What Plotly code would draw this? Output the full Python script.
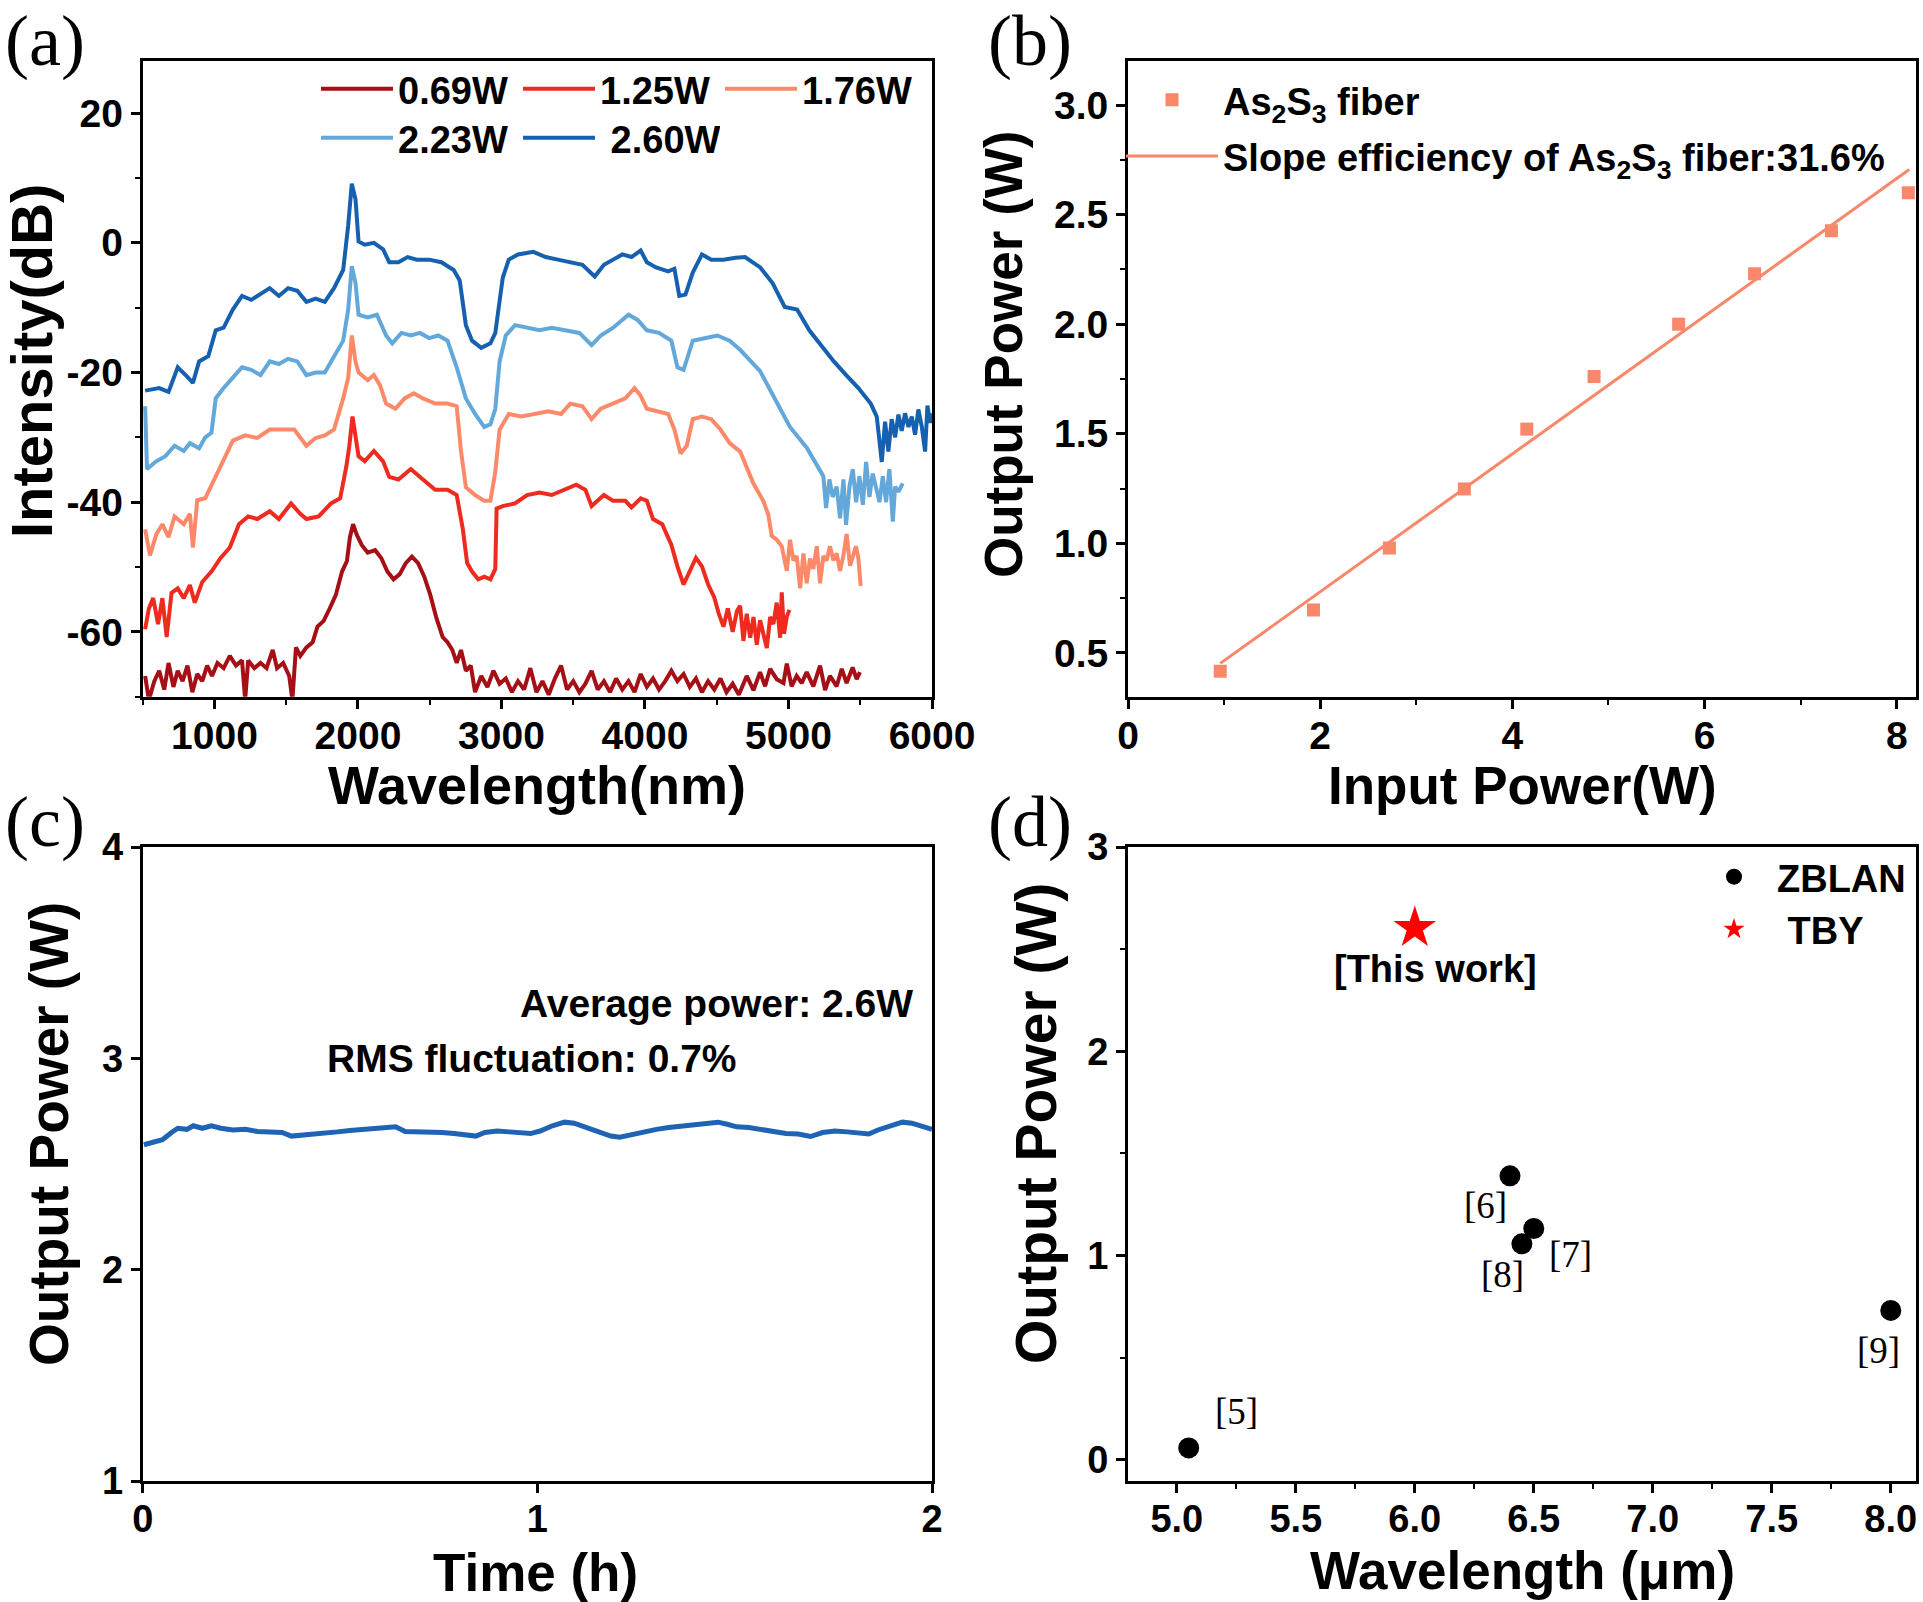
import plotly.graph_objects as go

W, H = 1923, 1602
SANS = "Liberation Sans, Arial, sans-serif"
SERIF = "Liberation Serif, Times New Roman, serif"

# ---------------- (a) spectra ----------------
wl_069 = [517,543,581,615,650,680,714,744,778,812,846,880,915,949,983,1021,1064,1107,1150,1192,1214,1235,1278,1321,1363,1406,1436,1479,1521,1543,1568,1598,1641,1684,1718,1761,1803,1846,1889,1923,1944,1966,1991,2026,2068,2120,2162,2205,2248,2291,2333,2376,2419,2462,2504,2547,2590,2624,2658,2688,2718,2752,2786,2816,2859,2902,2944,2987,3030,3073,3115,3158,3201,3244,3286,3329,3372,3415,3457,3500,3543,3585,3628,3671,3714,3756,3799,3842,3885,3927,3970,4013,4056,4098,4141,4184,4226,4269,4312,4355,4397,4440,4483,4526,4568,4611,4654,4686,4709,4756,4802,4837,4872,4918,4965,4988,5022,5057,5092,5127,5173,5220,5255,5289,5336,5371,5405,5447,5475,5498]
db_069 = [-66.8,-70.5,-67.6,-66,-68.9,-64.8,-68.5,-66,-67.6,-65.2,-69.3,-66.5,-67.6,-65.2,-66.8,-64.8,-65.6,-63.7,-65.2,-64.4,-70.5,-64.4,-65.6,-64.8,-65.6,-62.8,-65.6,-64.8,-66.8,-70.5,-62.4,-63.7,-62.4,-61.6,-59.2,-58.3,-56.4,-54.3,-50.7,-49.1,-45.4,-43.4,-45,-46.6,-47.8,-47.4,-48.6,-50.7,-51.9,-51.1,-49.4,-48.4,-49.4,-51.5,-54.3,-57.9,-60.8,-61.6,-62.8,-64.8,-62.8,-66,-65.2,-69.3,-66.8,-68.5,-66,-68,-67.2,-69.3,-67.6,-68.9,-65.6,-69.3,-67.6,-69.7,-67.2,-65.2,-68.9,-67.6,-69.3,-68,-66,-68.9,-67.6,-69.3,-67.2,-68.9,-67.6,-69.3,-66.5,-68.5,-67.2,-68.9,-67.6,-66,-67.6,-66.5,-68.5,-67.2,-69.3,-67.6,-68.9,-67.2,-69.3,-68,-69.7,-67.9,-66.8,-69,-66.2,-68.4,-65.7,-67.3,-67.9,-64.9,-68.4,-66.8,-67.9,-66.2,-68.4,-65.2,-69,-66.8,-68.4,-65.7,-67.9,-65.5,-67.3,-66.2]

wl_125 = [517,543,573,607,637,667,701,744,786,829,863,915,979,1043,1107,1171,1235,1299,1385,1449,1534,1598,1641,1726,1812,1876,1919,1940,1962,1983,2004,2047,2111,2175,2218,2282,2368,2453,2538,2624,2688,2731,2761,2795,2838,2880,2923,2957,2966,3009,3094,3179,3265,3350,3436,3521,3585,3628,3714,3778,3863,3906,3970,4013,4056,4120,4184,4226,4269,4312,4355,4397,4440,4483,4513,4547,4577,4611,4641,4663,4686,4709,4733,4756,4779,4802,4826,4849,4872,4895,4918,4942,4953,4969,4988,5006]
db_125 = [-59.6,-56.4,-54.8,-58.8,-54.8,-60.8,-54,-53.3,-54.8,-52.8,-55.5,-52.3,-50.7,-48.6,-47,-43.4,-42.2,-42.6,-41.4,-42.6,-40.2,-41.8,-42.6,-42.2,-40.2,-39.4,-34.5,-31.3,-26.8,-29.7,-32.9,-33.7,-32.1,-33.7,-36.1,-36.5,-34.9,-36.5,-38.1,-38.1,-38.9,-44.2,-49.4,-50.7,-51.9,-51.5,-51.9,-50.3,-41,-40.6,-40.2,-38.9,-38.5,-38.9,-38.1,-37.3,-38.1,-40.6,-38.9,-39.8,-39.8,-40.8,-39.4,-39.8,-42.6,-43.4,-46.6,-49.9,-52.7,-50.7,-48.6,-49.9,-52.7,-54.7,-57.1,-59.2,-56.4,-60,-56.8,-56,-61.4,-57.2,-60.9,-57.7,-62,-58.2,-60.3,-62.5,-57.7,-58.8,-55.5,-60.9,-53.9,-60.3,-57.7,-56.6]

wl_176 = [517,551,594,637,680,722,786,829,850,880,936,1000,1064,1128,1214,1299,1385,1470,1556,1641,1705,1769,1833,1897,1932,1957,1983,2004,2068,2111,2154,2196,2261,2325,2389,2453,2538,2624,2688,2718,2752,2816,2880,2923,2957,2987,3051,3137,3222,3329,3415,3479,3564,3628,3692,3778,3863,3927,3970,4013,4098,4162,4205,4248,4291,4333,4397,4462,4526,4590,4663,4755,4824,4859,4883,4918,4953,4988,5011,5034,5057,5081,5104,5127,5150,5173,5197,5220,5243,5266,5289,5313,5336,5359,5382,5405,5429,5452,5470,5487,5503]
db_176 = [-44.2,-48.2,-45,-43.4,-45.4,-42.2,-43.4,-41.8,-47,-39.7,-39.4,-36.5,-33.7,-30.5,-29.7,-30.1,-28.8,-28.8,-28.8,-31.3,-30.1,-29.7,-28.8,-24,-20.8,-14.3,-18.3,-20,-21.2,-20.4,-22,-24.8,-25.6,-24,-23.2,-24,-24.8,-24.8,-25.2,-32.1,-37.7,-38.9,-39.8,-39.8,-35.3,-28.8,-26.4,-26.8,-26.4,-26,-26.4,-24.8,-25.2,-27.2,-25.6,-24.8,-24,-22.4,-23.6,-25.6,-26,-26.4,-28.8,-32.5,-31.3,-27.2,-26.8,-27.2,-28.8,-30.9,-32.2,-37.1,-39.8,-41.9,-45.2,-45.8,-46.8,-50.6,-45.8,-49,-48.3,-53.3,-47.9,-52.5,-48.7,-50.3,-46.8,-52.5,-48.3,-49,-46.8,-49,-47.9,-50.6,-48.3,-44.9,-49.8,-48.3,-46.8,-48.7,-52.9]

wl_223 = [517,530,594,658,722,786,829,893,936,979,1009,1064,1128,1192,1256,1321,1385,1449,1513,1577,1641,1705,1769,1833,1897,1932,1957,1983,2004,2068,2132,2196,2239,2303,2368,2432,2496,2560,2624,2688,2752,2816,2880,2923,2957,2987,3030,3094,3179,3265,3350,3436,3543,3628,3692,3778,3885,3949,4013,4098,4184,4226,4269,4333,4419,4504,4590,4663,4802,4894,5010,5127,5220,5243,5262,5285,5308,5336,5359,5383,5401,5425,5448,5471,5494,5518,5541,5564,5587,5611,5634,5657,5680,5703,5727,5743,5766,5796]
db_223 = [-25.2,-34.9,-33.7,-32.9,-31.3,-32.1,-30.9,-31.7,-30,-29.3,-24,-22.4,-20.8,-19.2,-19.6,-20.4,-18.3,-18.7,-17.9,-18.3,-20.4,-20,-20,-17.5,-15.1,-10.3,-3.6,-6.2,-11.1,-11.5,-11.1,-14.3,-15.5,-13.9,-14.3,-13.9,-14.7,-14.3,-15.1,-19.2,-24,-26.4,-28.4,-28,-25.6,-18.3,-14.3,-12.7,-13.1,-13.5,-13.1,-13.5,-13.9,-15.8,-14.3,-13.1,-11.1,-11.9,-13.5,-13.9,-15.1,-19.2,-19.6,-15.1,-14.7,-14.3,-15.1,-16.5,-19.8,-23.5,-28.4,-31.6,-34.9,-36,-40.9,-36.5,-39.2,-37.6,-42.5,-36.5,-43.5,-37.6,-34.9,-40,-36,-40.4,-33.8,-39.2,-35.6,-37.6,-40,-36,-40,-34.9,-43,-37.6,-38.4,-37.1]

wl_260 = [517,615,680,744,808,850,893,957,1009,1064,1128,1192,1256,1321,1385,1449,1513,1577,1641,1705,1769,1833,1897,1932,1957,1983,2004,2047,2111,2175,2218,2282,2346,2410,2496,2581,2667,2709,2752,2795,2859,2923,2957,2974,3009,3051,3115,3222,3308,3393,3479,3564,3650,3714,3778,3842,3906,3970,4013,4077,4162,4205,4239,4282,4333,4397,4462,4547,4632,4697,4803,4889,4974,5060,5145,5231,5316,5402,5487,5573,5615,5650,5673,5696,5719,5743,5766,5789,5812,5836,5859,5882,5905,5929,5952,5968,5987,5998]
db_260 = [-22.8,-22.4,-23,-19.2,-20.6,-21.6,-18.3,-17.5,-13.5,-13.1,-10.3,-8.2,-8.8,-7.8,-7.0,-8.2,-7.0,-7.4,-9.1,-8.6,-9.1,-7.0,-4.2,2.7,9.1,6.7,0.2,-0.3,0,-1,-3,-3,-2.2,-2.6,-2.6,-3,-4.2,-5.8,-12.7,-15.1,-16.2,-15.5,-13.9,-11.1,-5.4,-2.6,-1.8,-1.4,-2.2,-2.6,-3,-3.4,-5.2,-3.4,-2.6,-1.8,-2.2,-1.2,-3,-3.8,-4.4,-4,-8.2,-8,-4.6,-1.8,-2.6,-2.6,-2.3,-2.2,-3.8,-6.2,-9.9,-10.3,-13.5,-15.9,-18.3,-20.4,-22.4,-24.8,-26.8,-33.8,-27.6,-32.2,-27.2,-30,-26.5,-29,-26.3,-28.4,-26.8,-29.6,-25.7,-28.4,-32.2,-25.1,-27.8,-26.3]

spec_labels = ["0.69W", "1.25W", "1.76W", "2.23W", "\u00a02.60W"]
spec_x = [wl_069, wl_125, wl_176, wl_223, wl_260]
spec_y = [db_069, db_125, db_176, db_223, db_260]
spec_colors = ["#a50f15", "#ef2a1f", "#fc8a6a", "#63a8da", "#1660b0"]
a_xticks = [1000, 2000, 3000, 4000, 5000, 6000]
a_yticks = [-60, -40, -20, 0, 20]
a_yticktext = ["-60", "-40", "-20", "0", "20"]

# ---------------- (b) slope efficiency ----------------
pin_w = [0.96, 1.93, 2.72, 3.50, 4.15, 4.85, 5.73, 6.52, 7.32, 8.12]
pout_w = [0.416, 0.696, 0.978, 1.248, 1.521, 1.761, 2.00, 2.23, 2.426, 2.60]
fit_x = [0.96, 8.13]
fit_y = [0.452, 2.706]
b_xticks = [0, 2, 4, 6, 8]
b_yticks = [0.5, 1.0, 1.5, 2.0, 2.5, 3.0]

# ---------------- (c) stability ----------------
t_h = [0.003,0.026,0.05,0.073,0.089,0.112,0.128,0.151,0.174,0.198,0.229,0.26,0.291,0.322,0.353,0.377,0.4,0.431,0.462,0.493,0.525,0.556,0.587,0.618,0.641,0.665,0.696,0.727,0.758,0.789,0.82,0.844,0.867,0.898,0.929,0.96,0.983,1.007,1.038,1.069,1.093,1.116,1.139,1.163,1.186,1.209,1.24,1.271,1.302,1.333,1.364,1.395,1.427,1.458,1.481,1.505,1.536,1.567,1.598,1.63,1.661,1.692,1.723,1.754,1.785,1.816,1.84,1.863,1.894,1.925,1.949,1.972,2.0]
p_w = [2.591,2.601,2.615,2.649,2.669,2.664,2.681,2.669,2.681,2.669,2.661,2.664,2.654,2.652,2.649,2.632,2.635,2.64,2.647,2.652,2.659,2.664,2.666,2.669,2.676,2.654,2.654,2.652,2.649,2.644,2.635,2.632,2.649,2.656,2.652,2.649,2.644,2.656,2.681,2.698,2.693,2.678,2.664,2.652,2.632,2.627,2.64,2.654,2.664,2.673,2.678,2.688,2.693,2.698,2.688,2.676,2.673,2.664,2.654,2.644,2.642,2.63,2.649,2.656,2.652,2.644,2.642,2.661,2.678,2.698,2.693,2.681,2.664]
c_xticks = [0, 1, 2]
c_yticks = [1, 2, 3, 4]

# ---------------- (d) comparison ----------------
zblan_wl = [5.05, 6.40, 6.50, 6.45, 8.00]
zblan_p = [0.058, 1.39, 1.132, 1.057, 0.731]
zblan_ref = ["[5]", "[6]", "[7]", "[8]", "[9]"]
tby_wl = [6.0]
tby_p = [2.604]
tby_ref = ["[This work]"]
d_xticks = [5.0, 5.5, 6.0, 6.5, 7.0, 7.5, 8.0]
d_yticks = [0, 1, 2, 3]

# label offsets (px) for reference tags in (d)
ref_shift = [(48, 36), (-24, -30), (37, -26), (-19, -31), (-12, -40)]
tby_shift = (21, -41)

fig = go.Figure()

for lab, xs, ys, col, i in zip(spec_labels, spec_x, spec_y, spec_colors, range(5)):
    fig.add_trace(go.Scatter(x=xs, y=ys, mode="lines", name=lab,
                             line=dict(color=col, width=4),
                             xaxis="x", yaxis="y",
                             legend="legend" if i < 3 else "legend2"))

fig.add_trace(go.Scatter(x=pin_w, y=pout_w, mode="markers",
                         name="As<sub>2</sub>S<sub>3</sub> fiber",
                         marker=dict(symbol="square", size=13, color="#f9876a"),
                         xaxis="x2", yaxis="y2", legend="legend3", legendgroup="g1"))
fig.add_trace(go.Scatter(x=fit_x, y=fit_y, mode="lines",
                         name="Slope efficiency of As<sub>2</sub>S<sub>3</sub> fiber:31.6%",
                         line=dict(color="#f9876a", width=3),
                         xaxis="x2", yaxis="y2", legend="legend3", legendgroup="g2"))

fig.add_trace(go.Scatter(x=t_h, y=p_w, mode="lines", showlegend=False,
                         line=dict(color="#1f63b5", width=5),
                         xaxis="x3", yaxis="y3"))

fig.add_trace(go.Scatter(x=zblan_wl, y=zblan_p, mode="markers", name="ZBLAN",
                         marker=dict(symbol="circle", size=21, color="black"),
                         xaxis="x4", yaxis="y4", legend="legend4", legendgroup="d1"))
fig.add_trace(go.Scatter(x=tby_wl, y=tby_p, mode="markers", name="\u00a0TBY",
                         marker=dict(symbol="star", size=32, color="#ff0000"),
                         xaxis="x4", yaxis="y4", legend="legend4", legendgroup="d2"))


def ax(domain, rng, tickvals, anchor, fmt=None, minor_dtick=None, minor_tick0=None,
       tfs=39, ticktext=None, standoff=0):
    d = dict(domain=domain, range=rng, tickvals=tickvals, anchor=anchor,
             showgrid=False, zeroline=False, showline=True, linecolor="black",
             linewidth=3, mirror=True, ticks="outside", ticklen=9, tickwidth=3,
             tickcolor="black", ticklabelstandoff=standoff,
             tickfont=dict(family=SANS, size=tfs, color="black", weight="bold"))
    if ticktext:
        d["ticktext"] = ticktext
    if fmt:
        d["tickformat"] = fmt
    if minor_dtick:
        d["minor"] = dict(dtick=minor_dtick, tick0=minor_tick0, ticks="outside",
                          ticklen=5, tickwidth=2, tickcolor="black", showgrid=False)
    return d


dxa = [142.7 / W, 932 / W]
dxb = [1128 / W, 1916 / W]
dyt = [1 - 696.7 / H, 1 - 61.2 / H]
dyb = [1 - 1481 / H, 1 - 847 / H]

layout = dict(
    width=W, height=H, margin=dict(l=0, r=0, t=0, b=0),
    paper_bgcolor="white", plot_bgcolor="white", template="none",
    xaxis=ax(dxa, [500, 6000], a_xticks, "y", minor_dtick=500, minor_tick0=500,
             standoff=-7),
    yaxis=ax(dyt, [-70, 28], a_yticks, "x", minor_dtick=10, minor_tick0=0,
             ticktext=a_yticktext),
    xaxis2=ax(dxb, [0, 8.2], b_xticks, "y2", minor_dtick=1, minor_tick0=0, standoff=-7),
    yaxis2=ax(dyt, [0.3, 3.2], b_yticks, "x2", fmt=".1f", minor_dtick=0.25, minor_tick0=0),
    xaxis3=ax(dxa, [0, 2], c_xticks, "y3", tfs=38, standoff=-7),
    yaxis3=ax(dyb, [1, 4], c_yticks, "x3", tfs=38),
    xaxis4=ax(dxb, [4.795, 8.106], d_xticks, "y4", fmt=".1f", minor_dtick=0.25,
              minor_tick0=5, tfs=38, standoff=-7),
    yaxis4=ax(dyb, [-0.104, 3], d_yticks, "x4", minor_dtick=0.5, minor_tick0=0, tfs=38),
    showlegend=True,
)

legfont = dict(family=SANS, size=38, color="black", weight="bold")
layout["legend"] = dict(orientation="h", x=316 / W, xanchor="left", y=1 - 89 / H,
                        yanchor="middle", font=legfont, itemwidth=72,
                        entrywidth=115, entrywidthmode="pixels",
                        bgcolor="rgba(0,0,0,0)", borderwidth=0)
layout["legend2"] = dict(orientation="h", x=316 / W, xanchor="left", y=1 - 138 / H,
                         yanchor="middle", font=legfont, itemwidth=72,
                         entrywidth=115, entrywidthmode="pixels",
                         bgcolor="rgba(0,0,0,0)", borderwidth=0)
layout["legend3"] = dict(orientation="v", x=1121 / W, xanchor="left", y=1 - 128 / H,
                         yanchor="middle", font=legfont, itemwidth=92,
                         tracegroupgap=4, bgcolor="rgba(0,0,0,0)", borderwidth=0)
layout["legend4"] = dict(orientation="v", x=1691 / W, xanchor="left", y=1 - 903 / H,
                         yanchor="middle", font=legfont, itemwidth=76,
                         tracegroupgap=0, bgcolor="rgba(0,0,0,0)", borderwidth=0)

fig.update_layout(**layout)

anns = []
# axis titles: (text, x px, y px, angle, font size)
axis_titles = [
    ("Wavelength(nm)", 537, 785, 0, 54), ("Intensity(dB)", 31, 361, -90, 58),
    ("Input Power(W)", 1522, 785, 0, 53), ("Output Power (W)", 1003, 354, -90, 53),
    ("Time (h)", 535, 1572, 0, 53), ("Output Power (W)", 49, 1134, -90, 55),
    ("Wavelength (μm)", 1522, 1570, 0, 53), ("Output Power (W)", 1036, 1124, -90, 57),
]
for txt, px, py, ang, fs in axis_titles:
    anns.append(dict(text=txt, x=px / W, y=1 - py / H, xref="paper", yref="paper",
                     showarrow=False, textangle=ang,
                     font=dict(family=SANS, size=fs, color="black", weight="bold"),
                     xanchor="center", yanchor="middle"))
# panel letters
for txt, px, py in [("(a)", 45, 41), ("(b)", 1030, 41), ("(c)", 45, 822), ("(d)", 1030, 822)]:
    anns.append(dict(text=txt, x=px / W, y=1 - py / H, xref="paper", yref="paper",
                     showarrow=False, font=dict(family=SERIF, size=72, color="black"),
                     xanchor="center", yanchor="middle"))
# (c) text
note_font = dict(family=SANS, size=39, color="black", weight="bold")
anns.append(dict(text="Average power: 2.6W", x=1.957, y=3.26, xref="x3", yref="y3",
                 showarrow=False, xanchor="right", yanchor="middle", font=note_font))
anns.append(dict(text="RMS fluctuation: 0.7%", x=0.463, y=3.0, xref="x3", yref="y3",
                 showarrow=False, xanchor="left", yanchor="middle", font=note_font))
# (d) refs
for xv, yv, r, (sx, sy) in zip(zblan_wl, zblan_p, zblan_ref, ref_shift):
    anns.append(dict(text=r, x=xv, y=yv, xref="x4", yref="y4", showarrow=False,
                     xshift=sx, yshift=sy, xanchor="center", yanchor="middle",
                     font=dict(family=SERIF, size=37, color="black")))
anns.append(dict(text=tby_ref[0], x=tby_wl[0], y=tby_p[0], xref="x4", yref="y4",
                 showarrow=False, xshift=tby_shift[0], yshift=tby_shift[1],
                 xanchor="center", yanchor="middle",
                 font=dict(family=SANS, size=38, color="black", weight="bold")))

fig.update_layout(annotations=anns)
fig.write_html("out.html")
